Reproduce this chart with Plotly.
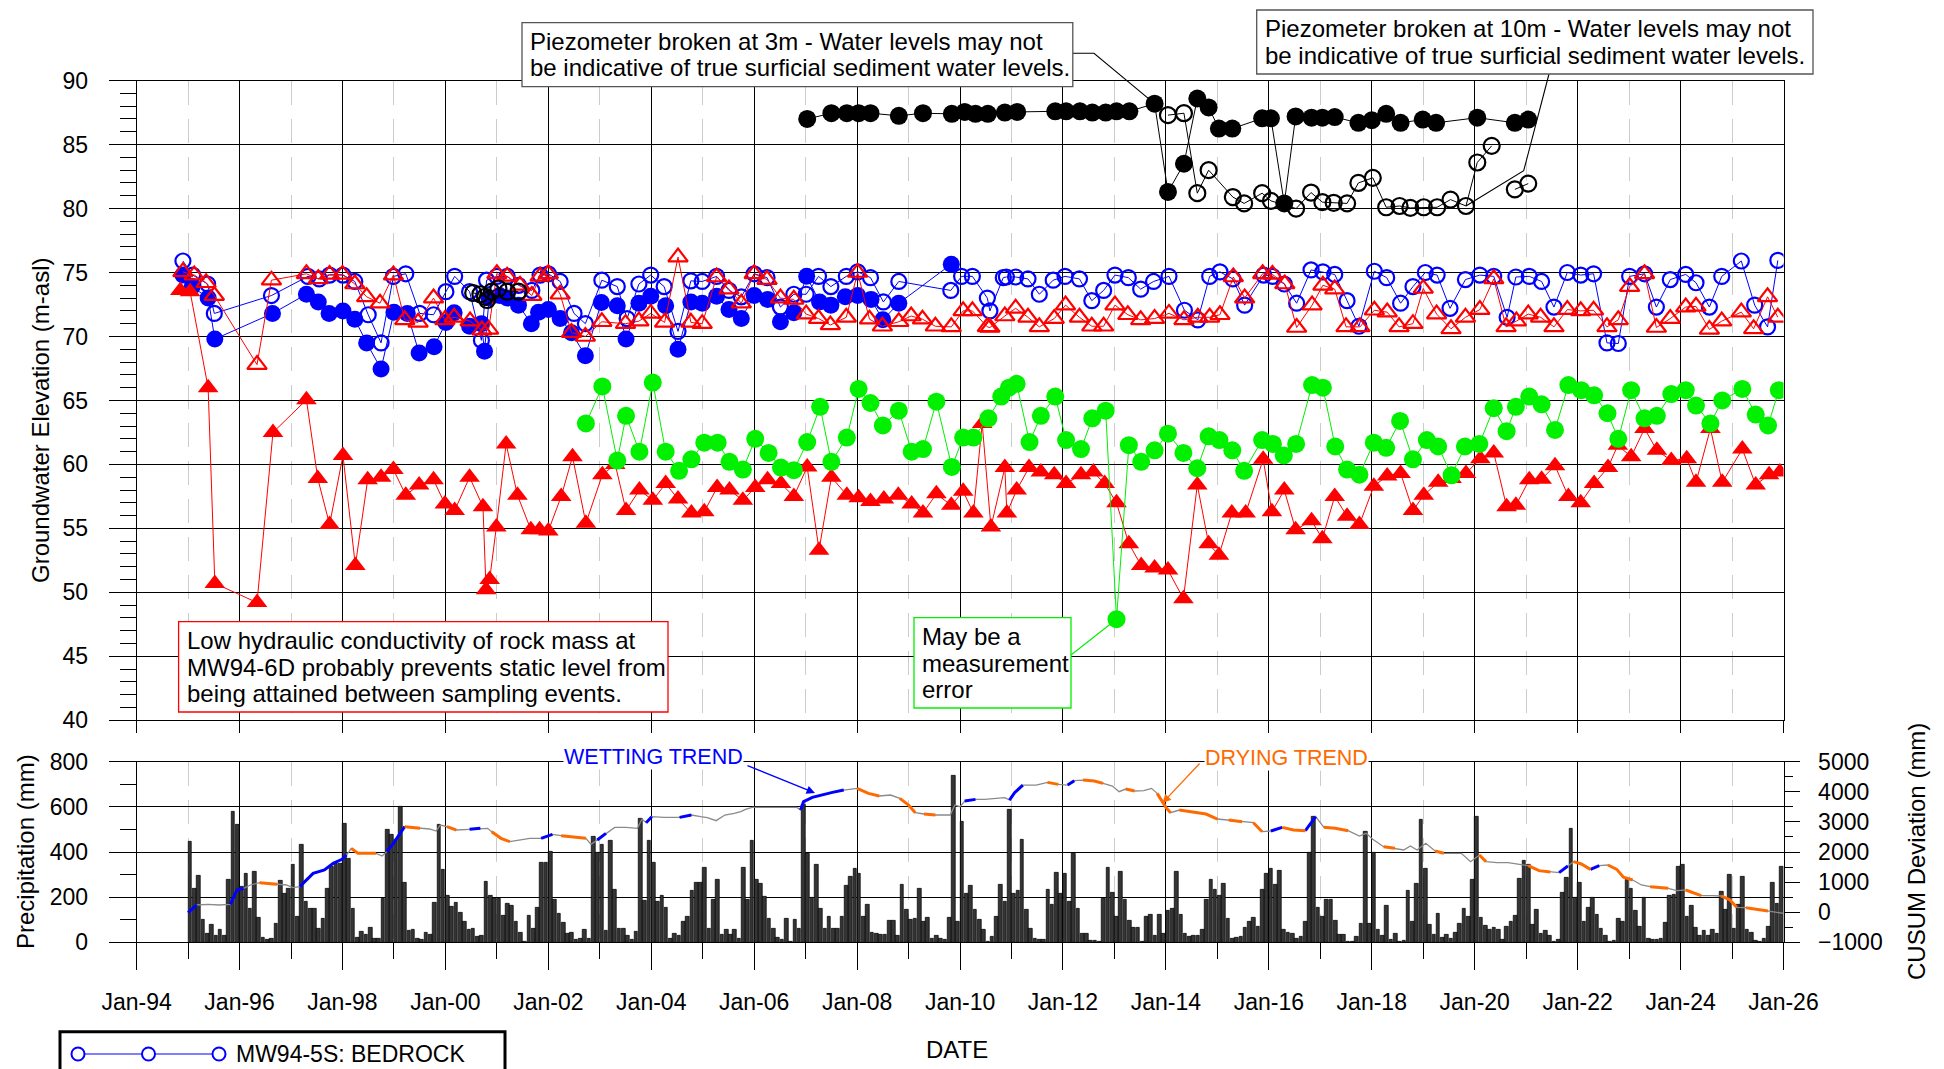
import plotly.graph_objects as go

W, H = 1944, 1069
FONT = "Liberation Sans, Arial, sans-serif"

# ---------------------------------------------------------------------------
# Groundwater elevations: (decimal year, m-asl); None breaks a line
# ---------------------------------------------------------------------------
MW94_5S = [(1994.90, 75.9), (1995.09, 74.8), (1995.38, 74.1), (1995.51, 71.8), (1996.62, 73.2), (1997.33, 74.7),
           (1997.55, 74.5), (1997.75, 74.8), (1998.01, 74.8), (1998.24, 74.3), (1998.50, 71.7), (1998.75, 69.5),
           (1998.99, 74.7), (1999.23, 74.9), (1999.50, 71.8), (1999.77, 71.7), (2000.01, 73.5), (2000.18, 74.7),
           (2000.47, 73.5), (2000.70, 69.7), (2000.80, 74.4), (2001.00, 74.7), (2001.20, 74.7), (2001.42, 74.0),
           (2001.68, 73.6), (2001.84, 74.8), (2002.00, 74.9), (2002.23, 74.3), (2002.50, 71.8), (2002.72, 71.0),
           (2003.04, 74.4), (2003.34, 73.9), (2003.53, 71.4), (2003.76, 74.1), (2003.99, 74.8), (2004.25, 73.9),
           (2004.52, 70.4), (2004.77, 74.35), (2004.99, 74.3), (2005.27, 74.7), (2005.51, 73.6), (2005.75, 73.1),
           (2006.00, 74.9), (2006.25, 74.6), (2006.51, 72.3), (2006.77, 73.3), (2007.01, 73.3), (2007.25, 74.7),
           (2007.49, 73.9), (2007.79, 74.7), (2008.01, 75.05), (2008.26, 74.6), (2008.51, 72.7), (2008.81, 74.3),
           (2009.82, 73.6), (2010.03, 74.7), (2010.24, 74.7), (2010.53, 73.0), (2010.58, 72.0), (2010.84, 74.6),
           (2010.90, 74.65), (2011.08, 74.65), (2011.32, 74.5), (2011.54, 73.3), (2011.81, 74.4), (2012.04, 74.7),
           (2012.32, 74.5), (2012.56, 72.8), (2012.79, 73.6), (2013.01, 74.8), (2013.27, 74.6), (2013.51, 73.7),
           (2013.76, 74.3), (2014.06, 74.7), (2014.36, 72.05), (2014.62, 71.3), (2014.85, 74.7), (2015.05, 75.05),
           (2015.30, 74.5), (2015.53, 72.45), (2015.90, 74.8), (2016.07, 74.7), (2016.30, 74.1), (2016.54, 72.6),
           (2016.82, 75.2), (2017.05, 75.05), (2017.28, 74.85), (2017.52, 72.8), (2017.75, 70.8), (2018.05, 75.1),
           (2018.29, 74.6), (2018.56, 72.6), (2018.80, 73.9), (2019.04, 75.0), (2019.27, 74.8), (2019.52, 72.2),
           (2019.82, 74.45), (2020.10, 74.8), (2020.37, 74.7), (2020.63, 71.5), (2020.80, 74.65), (2021.06, 74.7),
           (2021.30, 74.3), (2021.54, 72.3), (2021.80, 75.0), (2022.06, 74.8), (2022.31, 74.9), (2022.57, 69.5),
           (2022.79, 69.45), (2023.01, 74.7), (2023.30, 74.9), (2023.53, 72.3), (2023.80, 74.45), (2024.10, 74.85),
           (2024.30, 74.2), (2024.56, 72.3), (2024.80, 74.7), (2025.18, 75.9), (2025.44, 72.45), (2025.69, 70.75),
           (2025.89, 75.95)]

MW94_5D = [(1994.90, 74.8), (1995.08, 73.9), (1995.39, 73.0), (1995.52, 69.8), (1996.64, 71.8), (1997.30, 73.3),
           (1997.53, 72.7), (1997.74, 71.8), (1998.01, 72.0), (1998.24, 71.35), (1998.47, 69.5), (1998.75, 67.45),
           (1999.00, 71.9), (1999.26, 71.8), (1999.49, 68.7), (1999.78, 69.2), (2000.01, 71.1), (2000.17, 71.85),
           (2000.47, 70.8), (2000.70, 71.0), (2000.76, 68.85), (2000.85, 73.0), (2001.05, 73.2), (2001.20, 73.0),
           (2001.42, 72.45), (2001.67, 71.0), (2001.81, 71.9), (2002.00, 72.1), (2002.23, 71.4), (2002.45, 70.3),
           (2002.72, 68.5), (2003.03, 72.65), (2003.34, 72.4), (2003.51, 69.8), (2003.76, 72.6), (2003.99, 73.15),
           (2004.28, 72.4), (2004.52, 69.0), (2004.77, 72.7), (2004.99, 72.6), (2005.27, 73.15), (2005.51, 72.1),
           (2005.75, 71.4), (2006.00, 73.2), (2006.26, 72.9), (2006.51, 71.15), (2006.77, 71.85), (2007.02, 74.7),
           (2007.27, 72.7), (2007.49, 72.45), (2007.77, 73.1), (2008.01, 73.2), (2008.27, 72.9), (2008.50, 71.3),
           (2008.81, 72.6), (2009.83, 75.65)]

MW94_6S = [(1994.90, 75.05), (1995.12, 74.8), (1995.35, 74.2), (1995.51, 73.2), (1996.34, 67.8), (1996.62, 74.4),
           (1997.30, 74.9), (1997.53, 74.5), (1997.75, 74.85), (1998.00, 74.85), (1998.24, 74.1), (1998.47, 73.1),
           (1998.73, 72.6), (1998.99, 74.8), (1999.21, 71.3), (1999.47, 71.1), (1999.77, 73.0), (1999.99, 71.3),
           (2000.17, 71.5), (2000.48, 71.2), (2000.71, 70.5), (2000.84, 70.55), (2001.00, 74.9), (2001.20, 74.7),
           (2001.45, 74.0), (2001.68, 73.2), (2001.84, 74.7), (2002.00, 74.9), (2002.23, 73.3), (2002.45, 70.3),
           (2002.72, 70.0), (2003.04, 71.15), (2003.50, 71.0), (2003.76, 71.2), (2003.99, 71.8), (2004.26, 71.1),
           (2004.52, 76.2), (2004.77, 71.1), (2004.99, 71.0), (2005.27, 74.65), (2005.51, 73.7), (2005.75, 72.6),
           (2006.00, 74.9), (2006.25, 74.45), (2006.51, 73.0), (2006.77, 72.9), (2007.01, 71.75), (2007.25, 71.4),
           (2007.48, 70.9), (2007.79, 71.5), (2008.01, 75.0), (2008.24, 71.35), (2008.49, 70.8), (2008.81, 71.15),
           (2009.05, 71.6), (2009.27, 71.35), (2009.52, 70.8), (2009.83, 70.75), (2010.06, 72.0), (2010.24, 72.0),
           (2010.53, 70.75), (2010.58, 70.7), (2010.87, 71.6), (2011.08, 72.2), (2011.32, 71.5), (2011.54, 70.75),
           (2011.83, 71.4), (2012.05, 72.45), (2012.32, 71.5), (2012.56, 70.8), (2012.79, 70.8), (2013.01, 72.45),
           (2013.26, 71.7), (2013.51, 71.3), (2013.78, 71.4), (2014.06, 71.8), (2014.35, 71.3), (2014.62, 71.5),
           (2014.85, 71.5), (2015.05, 71.7), (2015.31, 74.65), (2015.53, 73.0), (2015.88, 74.9), (2016.07, 74.85),
           (2016.31, 74.1), (2016.54, 70.7), (2016.84, 72.45), (2017.05, 74.0), (2017.28, 73.7), (2017.50, 70.75),
           (2017.77, 70.75), (2018.05, 72.05), (2018.30, 71.9), (2018.53, 70.75), (2018.80, 71.0), (2019.00, 73.75),
           (2019.26, 71.75), (2019.54, 70.6), (2019.82, 71.5), (2020.10, 72.1), (2020.37, 74.5), (2020.61, 70.75),
           (2020.81, 71.2), (2021.04, 71.75), (2021.28, 71.5), (2021.54, 70.75), (2021.80, 72.1), (2022.06, 72.0),
           (2022.31, 72.05), (2022.57, 70.75), (2022.79, 71.3), (2023.01, 73.9), (2023.30, 74.9), (2023.53, 70.7),
           (2023.80, 71.4), (2024.10, 72.3), (2024.30, 72.35), (2024.56, 70.55), (2024.80, 71.2), (2025.18, 71.9),
           (2025.42, 70.6), (2025.69, 73.1), (2025.89, 71.5)]

MW94_6D = [(1994.85, 73.6), (1995.04, 73.5), (1995.39, 66.0), (1995.52, 50.7), (1996.34, 49.2), (1996.65, 62.5),
           (1997.30, 65.05), (1997.52, 58.9), (1997.75, 55.3), (1998.01, 60.7), (1998.25, 52.1), (1998.49, 58.8),
           (1998.75, 59.0), (1998.99, 59.6), (1999.23, 57.6), (1999.49, 58.4), (1999.77, 58.8), (1999.99, 56.9),
           (2000.18, 56.4), (2000.47, 59.0), (2000.73, 56.7), (2000.79, 50.2), (2000.86, 51.0), (2000.99, 55.1),
           (2001.18, 61.6), (2001.40, 57.6), (2001.66, 54.9), (2001.83, 54.9), (2002.00, 54.8), (2002.25, 57.5),
           (2002.47, 60.6), (2002.73, 55.4), (2003.05, 59.2), (2003.30, 60.0), (2003.51, 56.4), (2003.77, 58.0),
           (2004.03, 57.2), (2004.28, 58.5), (2004.52, 57.3), (2004.78, 56.2), (2005.03, 56.3), (2005.28, 58.2),
           (2005.52, 58.0), (2005.78, 57.2), (2006.02, 58.2), (2006.26, 58.8), (2006.52, 58.5), (2006.77, 57.5),
           (2007.03, 59.8), (2007.26, 53.3), (2007.50, 59.0), (2007.80, 57.6), (2008.03, 57.4), (2008.26, 57.1),
           (2008.52, 57.3), (2008.80, 57.6), (2009.06, 56.9), (2009.28, 56.2), (2009.54, 57.7), (2009.83, 56.8),
           (2010.06, 57.9), (2010.26, 56.2), (2010.43, 63.2), (2010.60, 55.1), (2010.87, 59.75), (2010.91, 56.2),
           (2011.10, 58.0), (2011.34, 59.75), (2011.57, 59.4), (2011.83, 59.2), (2012.06, 58.5), (2012.35, 59.2),
           (2012.59, 59.4), (2012.81, 58.5), (2013.04, 57.0), (2013.28, 53.8), (2013.52, 52.1), (2013.78, 51.9),
           (2014.04, 51.75), (2014.34, 49.5), (2014.61, 58.4), (2014.83, 53.8), (2015.03, 52.9), (2015.28, 56.2),
           (2015.55, 56.2), (2015.89, 60.4), (2016.06, 56.3), (2016.30, 58.0), (2016.52, 54.9), (2016.83, 55.6),
           (2017.04, 54.2), (2017.28, 57.5), (2017.52, 55.95), (2017.76, 55.3), (2018.04, 58.3), (2018.30, 59.1),
           (2018.56, 59.3), (2018.80, 56.4), (2019.01, 57.6), (2019.29, 58.6), (2019.55, 58.9), (2019.83, 59.3),
           (2020.11, 60.45), (2020.37, 60.9), (2020.62, 56.7), (2020.80, 56.8), (2021.06, 58.8), (2021.30, 58.85),
           (2021.56, 59.9), (2021.82, 57.5), (2022.06, 57.0), (2022.32, 58.5), (2022.59, 59.75), (2022.78, 61.5),
           (2023.04, 60.6), (2023.30, 62.8), (2023.54, 61.1), (2023.82, 60.3), (2024.12, 60.45), (2024.30, 58.6),
           (2024.58, 62.8), (2024.81, 58.6), (2025.20, 61.2), (2025.46, 58.4), (2025.72, 59.2), (2025.93, 59.4)]

MW02_GREEN = [(2002.73, 63.2), (2003.05, 66.1), (2003.34, 60.3), (2003.51, 63.8), (2003.77, 61.0), (2004.03, 66.4),
              (2004.28, 61.0), (2004.54, 59.5), (2004.78, 60.4), (2005.03, 61.7), (2005.29, 61.7), (2005.52, 60.2),
              (2005.78, 59.6), (2006.02, 62.0), (2006.28, 60.9), (2006.52, 59.75), (2006.77, 59.55), (2007.03, 61.75),
              (2007.28, 64.5), (2007.50, 60.2), (2007.80, 62.1), (2008.03, 65.9), (2008.26, 64.8), (2008.50, 63.05),
              (2008.81, 64.2), (2009.06, 61.0), (2009.28, 61.2), (2009.54, 64.9), (2009.84, 59.8), (2010.06, 62.1),
              (2010.26, 62.1), (2010.55, 63.6), (2010.80, 65.3), (2010.95, 66.0), (2011.10, 66.3), (2011.35, 61.75),
              (2011.57, 63.8), (2011.85, 65.3), (2012.06, 61.9), (2012.35, 61.2), (2012.57, 63.6), (2012.83, 64.2),
              (2013.04, 47.9), (2013.28, 61.5), (2013.52, 60.2), (2013.78, 61.1), (2014.04, 62.4), (2014.34, 60.9),
              (2014.61, 59.7), (2014.83, 62.2), (2015.04, 61.9), (2015.29, 61.1), (2015.52, 59.5), (2015.87, 61.9),
              (2016.08, 61.6), (2016.29, 60.7), (2016.53, 61.6), (2016.84, 66.2), (2017.05, 66.0), (2017.29, 61.4),
              (2017.52, 59.6), (2017.76, 59.2), (2018.04, 61.7), (2018.28, 61.3), (2018.55, 63.4), (2018.80, 60.4),
              (2019.07, 61.9), (2019.29, 61.4), (2019.55, 59.15), (2019.81, 61.4), (2020.09, 61.6), (2020.37, 64.4),
              (2020.62, 62.6), (2020.80, 64.5), (2021.06, 65.3), (2021.30, 64.7), (2021.56, 62.7), (2021.82, 66.2),
              (2022.07, 65.8), (2022.32, 65.4), (2022.58, 64.0), (2022.79, 62.0), (2023.04, 65.8), (2023.30, 63.6),
              (2023.54, 63.8), (2023.82, 65.5), (2024.10, 65.8), (2024.30, 64.6), (2024.58, 63.2), (2024.81, 65.0),
              (2025.20, 65.9), (2025.46, 63.9), (2025.70, 63.05), (2025.91, 65.8)]

SURFICIAL_3M = [(2007.03, 87.0), (2007.50, 87.45), (2007.80, 87.45), (2008.03, 87.45), (2008.26, 87.45),
                (2008.81, 87.25), (2009.28, 87.45), (2009.84, 87.4), (2010.09, 87.55), (2010.30, 87.4),
                (2010.54, 87.4), (2010.87, 87.5), (2011.11, 87.55), (2011.85, 87.6), (2012.06, 87.6),
                (2012.33, 87.6), (2012.57, 87.5), (2012.83, 87.5), (2013.04, 87.6), (2013.29, 87.6),
                (2013.78, 88.2), (2014.04, 81.3), (2014.35, 83.5), (2014.61, 88.6), (2014.83, 87.9),
                (2015.03, 86.25), (2015.29, 86.25), (2015.87, 87.05), (2016.04, 87.05), (2016.30, 80.4),
                (2016.52, 87.2), (2016.83, 87.1), (2017.04, 87.1), (2017.28, 87.15), (2017.74, 86.7),
                (2018.00, 86.9), (2018.28, 87.4), (2018.56, 86.7), (2018.99, 86.95), (2019.25, 86.7),
                (2020.05, 87.1), (2020.78, 86.7), (2021.04, 86.95)]

SURFICIAL_10M = [(2000.54, 73.4), (2000.68, 73.3), (2000.77, 73.1), (2000.81, 72.85), (2000.90, 73.5),
                 (2001.03, 73.75), (2001.20, 73.5), (2001.42, 73.5), None,
                 (2014.04, 87.3), (2014.35, 87.45), (2014.61, 81.2), (2014.83, 83.0), (2015.30, 80.9),
                 (2015.52, 80.4), (2015.87, 81.2), (2016.04, 80.6), (2016.53, 80.0), (2016.82, 81.25),
                 (2017.04, 80.5), (2017.26, 80.45), (2017.52, 80.4), (2017.74, 82.0), (2018.02, 82.4),
                 (2018.28, 80.1), (2018.54, 80.2), (2018.75, 80.05), (2019.01, 80.1), (2019.27, 80.1),
                 (2019.53, 80.7), (2019.83, 80.2), (2020.05, 83.6), (2020.33, 84.9), None,
                 (2020.78, 81.5), (2021.04, 81.95)]

# ---------------------------------------------------------------------------
# Monthly precipitation (mm), Jan..Dec, one row per year from 1995
# ---------------------------------------------------------------------------
PRECIP_FIRST_YEAR = 1995
PRECIP_MM = [
    [446, 236, 294, 99, 40, 77, 30, 58, 30, 276, 579, 520],    # 1995
    [246, 303, 148, 313, 111, 22, 10, 18, 84, 272, 214, 239],  # 1996
    [345, 114, 431, 180, 148, 150, 62, 106, 236, 335, 350, 350],
    [524, 369, 148, 22, 46, 32, 66, 18, 18, 192, 500, 478],
    [453, 601, 266, 52, 58, 18, 10, 44, 35, 177, 520, 320],
    [207, 158, 177, 131, 92, 58, 59, 25, 30, 267, 207, 195],   # 2000
    [192, 118, 170, 162, 92, 44, 3, 118, 62, 155, 354, 354],
    [401, 187, 125, 87, 37, 43, 10, 18, 55, 18, 468, 398],
    [431, 52, 450, 232, 62, 62, 28, 10, 46, 549, 183, 449],
    [353, 180, 207, 155, 18, 38, 28, 92, 114, 229, 264, 266],
    [332, 59, 187, 276, 32, 55, 32, 58, 15, 331, 190, 449],    # 2005
    [276, 258, 202, 106, 62, 22, 10, 103, 3, 102, 59, 608],
    [391, 199, 345, 150, 59, 114, 62, 59, 114, 251, 291, 328],
    [303, 114, 165, 44, 40, 35, 32, 94, 94, 28, 254, 143],
    [99, 103, 239, 92, 111, 18, 30, 15, 10, 109, 737, 92],
    [534, 217, 251, 143, 99, 55, 3, 25, 114, 254, 180, 586],   # 2010
    [217, 227, 453, 143, 62, 18, 13, 10, 235, 165, 308, 217],
    [303, 180, 391, 148, 40, 37, 7, 7, 2, 195, 331, 221],
    [114, 313, 187, 94, 66, 66, 2, 114, 124, 30, 124, 40],
    [139, 148, 313, 121, 40, 25, 28, 28, 55, 187, 279, 232],
    [207, 261, 103, 18, 21, 25, 65, 92, 111, 69, 232, 306],    # 2015
    [328, 254, 317, 55, 44, 40, 18, 25, 92, 399, 557, 155],
    [114, 187, 187, 94, 32, 35, 3, 3, 25, 84, 490, 84],
    [397, 58, 28, 162, 10, 40, 3, 6, 229, 92, 261, 545],
    [325, 77, 32, 125, 22, 32, 18, 44, 84, 148, 114, 276],
    [557, 111, 74, 58, 66, 55, 10, 69, 92, 117, 283, 360],     # 2020
    [342, 77, 146, 40, 50, 28, 3, 10, 220, 288, 505, 198],
    [264, 92, 154, 198, 121, 62, 28, 3, 7, 103, 92, 276],
    [236, 140, 69, 198, 18, 10, 10, 18, 87, 207, 210, 335],
    [345, 114, 161, 66, 28, 52, 28, 58, 40, 224, 143, 298],
    [59, 165, 291, 55, 44, 7, 3, 18, 69, 266, 173, 335],       # 2025
]

# ---------------------------------------------------------------------------
# Cumulative deviation of precipitation from the long-term mean (mm)
# ---------------------------------------------------------------------------
CUSUM_YEAR = [1995.0, 1995.17, 1995.39, 1995.6, 1995.82, 1995.95, 1996.08, 1996.21, 1996.39, 1996.56, 1996.73,
              1996.91, 1997.04, 1997.17, 1997.25, 1997.43, 1997.65, 1997.82, 1997.99, 1998.08, 1998.17, 1998.3,
              1998.47, 1998.65, 1998.77, 1998.86, 1998.99, 1999.12, 1999.21, 1999.34, 1999.51, 1999.69, 1999.82,
              1999.9, 2000.03, 2000.21, 2000.47, 2000.68, 2000.82, 2000.9, 2001.08, 2001.25, 2001.43, 2001.64,
              2001.86, 2002.08, 2002.25, 2002.43, 2002.73, 2002.83, 2002.95, 2003.12, 2003.29, 2003.51, 2003.73,
              2003.82, 2003.9, 2004.01, 2004.25, 2004.55, 2004.78, 2004.96, 2005.09, 2005.26, 2005.43, 2005.61,
              2005.74, 2005.83, 2005.96, 2006.17, 2006.43, 2006.65, 2006.83, 2006.9, 2006.96, 2007.13, 2007.3,
              2007.52, 2007.74, 2008.0, 2008.22, 2008.43, 2008.65, 2008.83, 2009.0, 2009.13, 2009.3, 2009.52,
              2009.81, 2009.9, 2010.0, 2010.09, 2010.3, 2010.48, 2010.7, 2010.87, 2010.96, 2011.06, 2011.22,
              2011.48, 2011.7, 2011.91, 2012.09, 2012.22, 2012.39, 2012.61, 2012.78, 2012.96, 2013.09, 2013.22,
              2013.39, 2013.57, 2013.72, 2013.83, 2014.0, 2014.09, 2014.26, 2014.52, 2014.78, 2015.0, 2015.22,
              2015.48, 2015.7, 2015.87, 2016.04, 2016.26, 2016.48, 2016.71, 2016.8, 2016.91, 2017.07, 2017.29,
              2017.54, 2017.76, 2017.89, 2018.02, 2018.23, 2018.45, 2018.62, 2018.75, 2018.88, 2019.05, 2019.23,
              2019.4, 2019.57, 2019.74, 2019.92, 2020.09, 2020.22, 2020.43, 2020.65, 2020.87, 2021.04, 2021.25,
              2021.47, 2021.64, 2021.81, 2021.92, 2022.07, 2022.25, 2022.42, 2022.59, 2022.76, 2022.89, 2023.07,
              2023.24, 2023.41, 2023.58, 2023.76, 2023.93, 2024.1, 2024.23, 2024.4, 2024.62, 2024.79, 2024.96,
              2025.09, 2025.27, 2025.48, 2025.7, 2025.87, 2026.0]
CUSUM_MM = [-15, 240, 262, 240, 262, 738, 793, 904, 982, 960, 926,
            904, 815, 849, 982, 1291, 1402, 1624, 1757, 1900, 2122, 1956,
            1956, 1956, 1867, 2011, 2288, 2620, 2841, 2819, 2786, 2764, 2697,
            2896, 2841, 2731, 2753, 2786, 2786, 2675, 2454, 2343, 2399, 2454,
            2454, 2587, 2543, 2509, 2454, 2255, 2399, 2620, 2819, 2819, 2786,
            3096, 2974, 3173, 3151, 3151, 3229, 3173, 3140, 3041, 3229, 3284,
            3339, 3417, 3483, 3483, 3483, 3483, 3483, 3395, 3672, 3815, 3893,
            3982, 4059, 4114, 3948, 3860, 3893, 3782, 3561, 3306, 3262, 3229,
            3229, 3561, 3505, 3694, 3749, 3749, 3782, 3804, 3727, 3970, 4225,
            4225, 4314, 4247, 4225, 4369, 4391, 4358, 4280, 4192, 4004, 4092,
            4026, 4037, 4114, 3948, 3483, 3306, 3395, 3339, 3262, 3096, 3063,
            3007, 2974, 2675, 2697, 2819, 2731, 2708, 2930, 3173, 2819, 2786,
            2708, 2532, 2620, 2421, 2177, 2122, 2066, 2199, 2066, 2288, 2033,
            1956, 1956, 1956, 1679, 1900, 1679, 1646, 1646, 1601, 1546, 1380,
            1336, 1314, 1535, 1679, 1601, 1424, 1546, 1568, 1424, 1159, 1070,
            904, 849, 815, 793, 716, 738, 649, 550, 550, 539, 406,
            162, 151, 96, 41, 18, -37]

# periods of sustained wetting / drying along the CUSUM curve (start, end)
WETTING_SPANS = [(1995.0, 1995.17), (1995.82, 1996.08), (1997.17, 1998.08), (1998.86, 1999.21),
                 (2000.47, 2000.68), (2001.86, 2002.08), (2002.95, 2003.12), (2003.9, 2004.01),
                 (2004.55, 2004.78), (2006.9, 2007.74), (2010.09, 2010.3), (2010.96, 2011.22),
                 (2012.09, 2012.22), (2016.04, 2016.26), (2016.71, 2016.91), (2021.64, 2021.81),
                 (2022.25, 2022.42)]
DRYING_SPANS = [(1996.39, 1996.73), (1998.17, 1998.65), (1999.21, 1999.51), (2000.03, 2000.21),
                (2000.9, 2001.25), (2002.25, 2002.73), (2008.0, 2008.43), (2008.83, 2009.13),
                (2009.3, 2009.52), (2011.7, 2011.91), (2012.39, 2012.78), (2013.22, 2013.39),
                (2013.83, 2014.09), (2014.26, 2015.0), (2015.22, 2015.48), (2015.7, 2015.87),
                (2016.26, 2016.71), (2017.07, 2017.54), (2018.23, 2018.45), (2019.23, 2019.4),
                (2020.09, 2020.22), (2021.04, 2021.47), (2021.92, 2022.25), (2022.59, 2023.07),
                (2023.41, 2023.76), (2024.1, 2024.4), (2024.79, 2025.09), (2025.27, 2025.7)]

DATE_TICKS = list(range(1994, 2027, 2))
DATE_LABELS = ["Jan-94", "Jan-96", "Jan-98", "Jan-00", "Jan-02", "Jan-04", "Jan-06", "Jan-08", "Jan-10",
               "Jan-12", "Jan-14", "Jan-16", "Jan-18", "Jan-20", "Jan-22", "Jan-24", "Jan-26"]

# ---------------------------------------------------------------------------
# Page geometry (pixels) of the two panels
# ---------------------------------------------------------------------------
PX_LEFT, PX_RIGHT = 136.6, 1783.5
PX_TOP_T, PX_TOP_B = 80.6, 720.3
PX_BOT_T, PX_BOT_B = 761.7, 942.3
X_RANGE = [1994, 2026]
ELEV_RANGE = [40, 90]


def fx(px):
    return px / W


def fy(py):
    return 1 - py / H


def elev_point_px(year, elev):
    """Pixel position of an elevation reading on the upper panel."""
    x = PX_LEFT + (year - X_RANGE[0]) / (X_RANGE[1] - X_RANGE[0]) * (PX_RIGHT - PX_LEFT)
    y = PX_TOP_B - (elev - ELEV_RANGE[0]) / (ELEV_RANGE[1] - ELEV_RANGE[0]) * (PX_TOP_B - PX_TOP_T)
    return x, y


def unzip(pairs):
    xs, ys = [], []
    for p in pairs:
        if p is None:
            xs.append(None)
            ys.append(None)
        else:
            xs.append(p[0])
            ys.append(p[1])
    return xs, ys


def span_segments(spans):
    xs, ys = [], []
    for a, b in spans:
        for t, v in zip(CUSUM_YEAR, CUSUM_MM):
            if a - 1e-6 <= t <= b + 1e-6:
                xs.append(t)
                ys.append(v)
        xs.append(None)
        ys.append(None)
    return xs, ys


fig = go.Figure()

# precipitation bars
bar_x, bar_y = [], []
for i, row in enumerate(PRECIP_MM):
    for m, v in enumerate(row):
        bar_x.append(PRECIP_FIRST_YEAR + i + (m + 0.5) / 12)
        bar_y.append(v)
fig.add_trace(go.Bar(x=bar_x, y=bar_y, xaxis="x2", yaxis="y2", width=0.85 / 12,
                     marker=dict(color="#353535", line=dict(color="black", width=0.7)),
                     name="Precipitation", showlegend=False))

# CUSUM curve with trend highlights
fig.add_trace(go.Scatter(x=CUSUM_YEAR, y=CUSUM_MM, xaxis="x2", yaxis="y3", mode="lines",
                         line=dict(color="#8a8a8a", width=1.3), name="CUSUM", showlegend=False))
wx, wy = span_segments(WETTING_SPANS)
fig.add_trace(go.Scatter(x=wx, y=wy, xaxis="x2", yaxis="y3", mode="lines",
                         line=dict(color="#0000ff", width=3), showlegend=False, hoverinfo="skip"))
dx, dy = span_segments(DRYING_SPANS)
fig.add_trace(go.Scatter(x=dx, y=dy, xaxis="x2", yaxis="y3", mode="lines",
                         line=dict(color="#ff6a00", width=3), showlegend=False, hoverinfo="skip"))


def add_well(pairs, name, color, symbol, size, open_marker):
    xs, ys = unzip(pairs)
    if open_marker:
        marker = dict(symbol=symbol, size=size, color=color, line=dict(color=color, width=2.2))
    else:
        marker = dict(symbol=symbol, size=size, color=color, line=dict(width=0))
    fig.add_trace(go.Scatter(x=xs, y=ys, xaxis="x", yaxis="y", mode="lines+markers", name=name,
                             line=dict(color=color, width=1), marker=marker, showlegend=False))


GREEN = "#00f000"
add_well(MW94_5D, "MW94-5D: BEDROCK", "#0000ff", "circle", 17, False)
add_well(MW94_5S, "MW94-5S: BEDROCK", "#0000ff", "circle-open", 15, True)
add_well(MW94_6D, "MW94-6D: BEDROCK", "#ff0000", "triangle-up", 18, False)
add_well(MW94_6S, "MW94-6S: BEDROCK", "#ff0000", "triangle-up-open", 17, True)
add_well(MW02_GREEN, "MW02-7D: BEDROCK", GREEN, "circle", 18, False)
add_well(SURFICIAL_3M, "Surficial 3 m", "#000000", "circle", 18, False)
add_well(SURFICIAL_10M, "Surficial 10 m", "#000000", "circle-open", 16, True)

# ---------------------------------------------------------------------------
# Axes
# ---------------------------------------------------------------------------
tick_font = dict(family=FONT, size=23, color="black")
x_dom = [fx(PX_LEFT), fx(PX_RIGHT)]
minor_grid = dict(tickmode="linear", tick0=1994, dtick=1, showgrid=True, gridcolor="#cccccc",
                  gridwidth=1, griddash="24px,14px")

fig.update_layout(
    template="none",
    width=W, height=H, margin=dict(l=0, r=0, t=0, b=0, pad=0, autoexpand=False),
    paper_bgcolor="white", plot_bgcolor="white", showlegend=False, bargap=0,
    font=dict(family=FONT, color="black"),
    xaxis=dict(domain=x_dom, range=X_RANGE, anchor="y", automargin=False,
               tickmode="array", tickvals=DATE_TICKS,
               showticklabels=False, ticks="outside", ticklen=12, tickcolor="black", tickwidth=1,
               showgrid=True, gridcolor="black", gridwidth=1, zeroline=False,
               showline=True, linecolor="black", linewidth=1, mirror=True,
               minor=dict(minor_grid, ticks="")),
    yaxis=dict(domain=[fy(PX_TOP_B), fy(PX_TOP_T)], range=ELEV_RANGE, anchor="x", automargin=False,
               tickmode="linear", tick0=40, dtick=5, ticks="outside", ticklen=27, tickcolor="black", tickwidth=1,
               tickfont=tick_font, ticklabelstandoff=16,
               showgrid=True, gridcolor="black", gridwidth=1, zeroline=False,
               showline=True, linecolor="black", linewidth=1, mirror=True,
               minor=dict(tickmode="linear", tick0=40, dtick=1, ticks="outside", ticklen=16,
                          tickcolor="black", tickwidth=1, showgrid=False)),
    xaxis2=dict(domain=x_dom, range=X_RANGE, anchor="y2", automargin=False,
                tickmode="array", tickvals=DATE_TICKS,
                ticktext=DATE_LABELS, tickfont=tick_font, ticks="outside", ticklen=27, tickcolor="black",
                tickwidth=1, ticklabelstandoff=12,
                showgrid=True, gridcolor="black", gridwidth=1, zeroline=False,
                showline=True, linecolor="black", linewidth=1, mirror=True,
                minor=dict(minor_grid, ticks="outside", ticklen=16, tickcolor="black", tickwidth=1)),
    yaxis2=dict(domain=[fy(PX_BOT_B), fy(PX_BOT_T)], range=[0, 800], anchor="x2", automargin=False,
                tickmode="linear", tick0=0, dtick=200, ticks="outside", ticklen=27, tickcolor="black",
                tickwidth=1, tickfont=tick_font, ticklabelstandoff=16,
                showgrid=True, gridcolor="black", gridwidth=1, zeroline=False,
                showline=True, linecolor="black", linewidth=1, mirror=False,
                minor=dict(tickmode="linear", tick0=0, dtick=100, ticks="outside", ticklen=16,
                           tickcolor="black", tickwidth=1, showgrid=False)),
    yaxis3=dict(range=[-1000, 5000], overlaying="y2", side="right", anchor="x2", automargin=False,
                tickmode="linear", tick0=-1000, dtick=1000, ticks="outside", ticklen=15, tickcolor="black",
                tickwidth=1, tickfont=tick_font, ticklabelstandoff=14, showgrid=False, zeroline=False,
                showline=True, linecolor="black", linewidth=1,
                minor=dict(tickmode="linear", tick0=-1000, dtick=500, ticks="outside", ticklen=8,
                           tickcolor="black", tickwidth=1, showgrid=False)),
)

# ---------------------------------------------------------------------------
# Notes, titles, legend
# ---------------------------------------------------------------------------
ann = []
shapes = []
NOTE_SIZE = 24
NOTE_LINE = 26.3


def note_box(lines, left, top, right, bottom, border):
    shapes.append(dict(type="rect", xref="paper", yref="paper", x0=fx(left), x1=fx(right),
                       y0=fy(bottom), y1=fy(top), line=dict(color=border, width=1.3),
                       fillcolor="white", layer="above"))
    for i, line in enumerate(lines):
        ann.append(dict(xref="paper", yref="paper", x=fx(left + 6), y=fy(top + 19 + i * NOTE_LINE),
                        xanchor="left", yanchor="middle", text=line, showarrow=False,
                        font=dict(family=FONT, size=NOTE_SIZE, color="black")))


def leader(points_px, color):
    path = "M " + " L ".join(f"{fx(x):.5f},{fy(y):.5f}" for x, y in points_px)
    return dict(type="path", xref="paper", yref="paper", path=path,
                line=dict(color=color, width=1.1), layer="above")


# broken 3 m piezometer
p3 = elev_point_px(*SURFICIAL_3M[20])
shapes.append(leader([(1072.8, 53.3), (1094, 53.3), p3], "black"))
note_box(["Piezometer broken at 3m - Water levels may not",
          "be indicative of true surficial sediment water levels."],
         522, 22.7, 1072.8, 86.7, "#555555")

# broken 10 m piezometer
p10 = elev_point_px(*SURFICIAL_10M[30])
shapes.append(leader([(1549, 74), (1523.7, 170.7), p10], "black"))
note_box(["Piezometer broken at 10m - Water levels may not",
          "be indicative of true surficial sediment water levels."],
         1256.7, 10, 1813, 74, "#555555")

# low conductivity note
note_box(["Low hydraulic conductivity of rock mass at",
          "MW94-6D probably prevents static level from",
          "being attained between sampling events."],
         178.6, 621.7, 668, 712, "#ff0000")

# suspect reading
pg = elev_point_px(*MW02_GREEN[42])
shapes.append(leader([(1071, 655), pg], GREEN))
note_box(["May be a", "measurement", "error"], 914, 617.7, 1071, 708, GREEN)

# trend labels and arrows
ann.append(dict(xref="paper", yref="paper", x=fx(562.5), y=fy(756.5), xanchor="left", yanchor="middle",
                text="WETTING TREND", showarrow=False, bgcolor="white", borderpad=0,
                font=dict(family=FONT, size=21.5, color="#0000ff")))
ann.append(dict(xref="paper", yref="paper", x=fx(815), y=fy(793), text="", showarrow=True,
                ax=-69, ay=-28, arrowhead=2, arrowsize=1.3, arrowwidth=1.3, arrowcolor="#0000ff"))
ann.append(dict(xref="paper", yref="paper", x=fx(1203.6), y=fy(757.5), xanchor="left", yanchor="middle",
                text="DRYING TREND", showarrow=False, bgcolor="white", borderpad=0,
                font=dict(family=FONT, size=21.5, color="#ff6a00")))
ann.append(dict(xref="paper", yref="paper", x=fx(1162.5), y=fy(803), text="", showarrow=True,
                ax=38.5, ay=-41, arrowhead=2, arrowsize=1.3, arrowwidth=1.3, arrowcolor="#ff6a00"))

# axis titles
title_font = dict(family=FONT, size=24, color="black")
ann.append(dict(xref="paper", yref="paper", x=fx(40), y=fy(421), text="Groundwater Elevation (m-asl)",
                textangle=-90, showarrow=False, font=title_font, xanchor="center", yanchor="middle"))
ann.append(dict(xref="paper", yref="paper", x=fx(25), y=fy(852), text="Precipitation (mm)",
                textangle=-90, showarrow=False, font=title_font, xanchor="center", yanchor="middle"))
ann.append(dict(xref="paper", yref="paper", x=fx(1916), y=fy(852), text="CUSUM Deviation (mm)",
                textangle=-90, showarrow=False, font=title_font, xanchor="center", yanchor="middle"))
ann.append(dict(xref="paper", yref="paper", x=fx(957), y=fy(1049), text="DATE",
                showarrow=False, font=title_font, xanchor="center", yanchor="middle"))

# legend box (first entry)
LEG_Y = 1054
shapes.append(dict(type="rect", xref="paper", yref="paper", x0=fx(60), x1=fx(505), y0=fy(1110), y1=fy(1031.7),
                   line=dict(color="black", width=3), fillcolor="white", layer="above"))
shapes.append(dict(type="line", xref="paper", yref="paper", x0=fx(78), x1=fx(219), y0=fy(LEG_Y), y1=fy(LEG_Y),
                   line=dict(color="#0000ff", width=1.2), layer="above"))
for cx in (78, 148.5, 219):
    shapes.append(dict(type="circle", xref="paper", yref="paper", x0=fx(cx - 6.5), x1=fx(cx + 6.5),
                       y0=fy(LEG_Y + 6.5), y1=fy(LEG_Y - 6.5), line=dict(color="#0000ff", width=2),
                       fillcolor="white", layer="above"))
ann.append(dict(xref="paper", yref="paper", x=fx(234), y=fy(LEG_Y), text="MW94-5S: BEDROCK",
                xanchor="left", yanchor="middle", showarrow=False,
                font=dict(family=FONT, size=23, color="black")))

fig.update_layout(annotations=ann, shapes=shapes)
fig.write_html("out.html")
